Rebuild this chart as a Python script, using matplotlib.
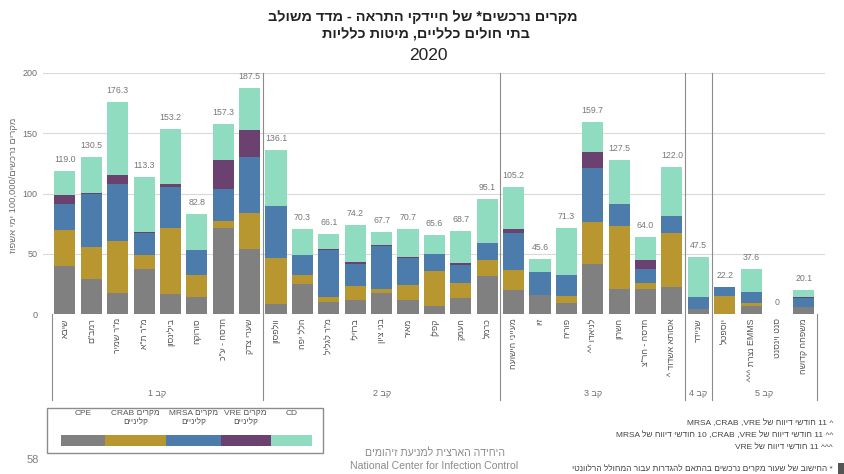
import re
import matplotlib
matplotlib.use("Agg")
import matplotlib.pyplot as plt
import matplotlib.transforms as mtransforms
from matplotlib.patches import Rectangle
import numpy as np

plt.rcParams['font.family'] = ['Liberation Sans', 'DejaVu Sans']

# hospitals (logical order), grouped by size class
hospitals = ['שיבא', 'רמב"ם', 'מ"ר שמיר', 'מ"ר ת"א', 'בילינסון', 'סורוקה', 'הדסה - ע"כ', 'שערי צדק',
             'וולפסון', 'הלל יפה', 'מ"ר לגליל', 'ברזילי', 'בני ציון', 'מאיר', 'קפלן', 'העמק', 'כרמל',
             'מעייני הישועה', 'זיו', 'פוריה', 'לניאדו ^^', 'השרון', 'הדסה - הר"צ', 'אסותא אשדוד ^',
             'שניידר',
             'יוספטל', 'EMMS נצרת ^^^', 'סנט וינסנט', 'משפחה קדושה']
groups = ['קב 1', 'קב 2', 'קב 3', 'קב 4', 'קב 5']
group_sizes = [8, 9, 7, 1, 4]

cpe = [40.0, 29.4, 17.7, 37.1, 16.6, 14.4, 71.2, 54.3,
       8.6, 24.9, 9.7, 11.9, 17.5, 11.6, 6.9, 13.3, 31.9,
       19.9, 15.5, 9.1, 41.3, 20.8, 20.8, 22.7,
       3.9,
       0.0, 6.6, 0.0, 6.1]
crab = [30.0, 26.3, 42.7, 11.9, 54.9, 18.0, 6.1, 29.4,
        37.7, 7.5, 4.4, 11.6, 3.6, 12.2, 28.6, 12.5, 13.3,
        16.7, 0.0, 6.1, 35.2, 52.1, 5.0, 44.6,
        0.0,
        15.0, 2.8, 0.0, 0.0]
mrsa = [21.0, 44.0, 47.6, 18.0, 34.3, 20.8, 26.3, 46.2,
        43.7, 16.4, 39.1, 18.1, 35.4, 22.7, 14.4, 15.2, 13.5,
        30.4, 19.4, 17.5, 44.5, 18.2, 11.9, 14.1,
        10.5,
        7.2, 8.9, 0.0, 7.2]
vre = [8.0, 0.9, 7.2, 0.9, 2.2, 0.0, 24.4, 23.0,
       0.0, 0.0, 0.8, 1.3, 0.5, 0.9, 0.0, 1.1, 0.0,
       3.4, 0.0, 0.0, 13.6, 0.0, 7.2, 0.0,
       0.0,
       0.0, 0.0, 0.0, 1.1]
cd = [20.0, 29.9, 61.1, 45.4, 45.2, 29.6, 29.3, 34.6,
      46.1, 21.5, 12.1, 31.3, 10.7, 23.3, 15.7, 26.6, 36.4,
      34.8, 10.7, 38.6, 25.1, 36.4, 19.1, 40.6,
      33.1,
      0.0, 19.3, 0.0, 5.7]
totals = [119.0, 130.5, 176.3, 113.3, 153.2, 82.8, 157.3, 187.5,
          136.1, 70.3, 66.1, 74.2, 67.7, 70.7, 65.6, 68.7, 95.1,
          105.2, 45.6, 71.3, 159.7, 127.5, 64.0, 122.0,
          47.5,
          22.2, 37.6, 0, 20.1]

series_names = ['CPE', 'מקרים CRAB\nקליניים', 'מקרים MRSA\nקליניים', 'מקרים VRE\nקליניים', 'CD']
colors = ['#808080', '#b89630', '#4c7cab', '#6b4170', '#8fdcc0']

footnotes = ['^ 11 חודשי דיווח של VRE, CRAB, MRSA',
             '^^ 11 חודשי דיווח של VRE, CRAB, 10 חודשי דיווח של MRSA',
             '^^^ 11 חודשי דיווח של VRE',
             '* החישוב של שעור מקרים נרכשים בהתאם להגדרות עבור המחולל הרלוונטי']

LTR_RUN = re.compile(r'[A-Za-z0-9]+(?:[.,][A-Za-z0-9]+)*')


def rtl(s):
    """Very small bidi: reverse hebrew runs, keep latin/number runs as is."""
    out = []
    for line in s.split('\n'):
        parts = []
        pos = 0
        for m in LTR_RUN.finditer(line):
            if m.start() > pos:
                parts.append(line[pos:m.start()][::-1])
            parts.append(m.group())
            pos = m.end()
        if pos < len(line):
            parts.append(line[pos:][::-1])
        out.append(''.join(parts[::-1]))
    return '\n'.join(out)


W, H = 845, 474
fig = plt.figure(figsize=(W / 100, H / 100), dpi=100)
ax = fig.add_axes([43 / W, 1 - 314 / H, (825 - 43) / W, (314 - 73) / H])

x = np.arange(len(hospitals))
bottom = np.zeros(len(hospitals))
for vals, c in zip([cpe, crab, mrsa, vre, cd], colors):
    ax.bar(x, vals, 0.8, bottom=bottom, color=c, zorder=2)
    bottom += np.array(vals)

for xi, t in zip(x, totals):
    lbl = '0' if t == 0 else f'{t:.1f}'
    ax.annotate(lbl, (xi, t), xytext=(0, 6.5), textcoords='offset points',
                ha='center', va='baseline', fontsize=6.3, color='#777777')

ax.set_xlim(-0.83, 28.8)
ax.set_ylim(0, 200)
ax.set_yticks([0, 50, 100, 150, 200])
ax.grid(axis='y', color='#d9d9d9', lw=0.8, zorder=0)
for s in ax.spines.values():
    s.set_visible(False)
ax.tick_params(axis='both', length=0, labelsize=6.5, labelcolor='#6e6e6e')
ax.tick_params(axis='y', pad=4)
ax.set_xticks(x)
ax.set_xticklabels([rtl(h) for h in hospitals], rotation=90, fontsize=6.3,
                   color='#555555', va='top', ha='center')
ax.tick_params(axis='x', pad=3)

ax.set_ylabel(rtl('מקרים נרכשים/100,000 ימי אשפוז'), fontsize=6.8, color='#6e6e6e')
ax.yaxis.set_label_coords(-0.032, 0.535)

# group separators and group names
trans = mtransforms.blended_transform_factory(ax.transData, ax.transAxes)
edges = np.cumsum([0] + group_sizes) - 0.5
for i, e in enumerate(edges):
    top = 0 if i in (0, len(edges) - 1) else 1
    ax.plot([e, e], [top, -0.357], color='#8c8c8c', lw=0.8, transform=trans,
            clip_on=False, zorder=3)
for g, a, b in zip(groups, edges[:-1], edges[1:]):
    ax.text((a + b) / 2, -0.328, rtl(g), transform=trans, ha='center', va='center',
            fontsize=6.5, color='#6e6e6e')

# title
fig.text(423 / W, 1 - 17 / H, rtl('מקרים נרכשים* של חיידקי התראה - מדד משולב'),
         ha='center', va='center', fontsize=10.4, fontweight='bold', color='#222222')
fig.text(426 / W, 1 - 34.5 / H, rtl('בתי חולים כלליים, מיטות כלליות'),
         ha='center', va='center', fontsize=10.4, fontweight='bold', color='#222222')
fig.text(428 / W, 1 - 55 / H, '2020', ha='center', va='center', fontsize=12.5, color='#222222')

# overlay in pixel coordinates for legend and notes
ov = fig.add_axes([0, 0, 1, 1], zorder=-1)
ov.set_xlim(0, W)
ov.set_ylim(H, 0)
ov.axis('off')

ov.add_patch(Rectangle((47, 408), 276, 45, fill=False, ec='#8c8c8c', lw=1))
seg = [60.7, 104.7, 166.0, 220.7, 270.7, 312.3]
for name, c, a, b in zip(series_names, colors, seg[:-1], seg[1:]):
    ov.add_patch(Rectangle((a, 435), b - a, 11, color=c, lw=0))
    ov.text((a + b) / 2, 410, rtl(name), ha='center', va='top', fontsize=6,
            color='#555555', linespacing=1.15)

for note, yy in zip(footnotes, [423, 435, 447, 469]):
    ov.text(833, yy, rtl(note), ha='right', va='center', fontsize=6, color='#444444')

ov.text(435, 453, rtl('היחידה הארצית למניעת זיהומים'), ha='center', va='center',
        fontsize=7.6, color='#8c8c8c')
ov.text(434, 466, 'National Center for Infection Control', ha='center', va='center',
        fontsize=7.6, color='#8c8c8c')
ov.text(33, 460, '58', ha='center', va='center', fontsize=8, color='#7f7f7f')
ov.add_patch(Rectangle((838, 463), 7, 11, color='#555555', lw=0))

fig.savefig('out.png', dpi=100)
